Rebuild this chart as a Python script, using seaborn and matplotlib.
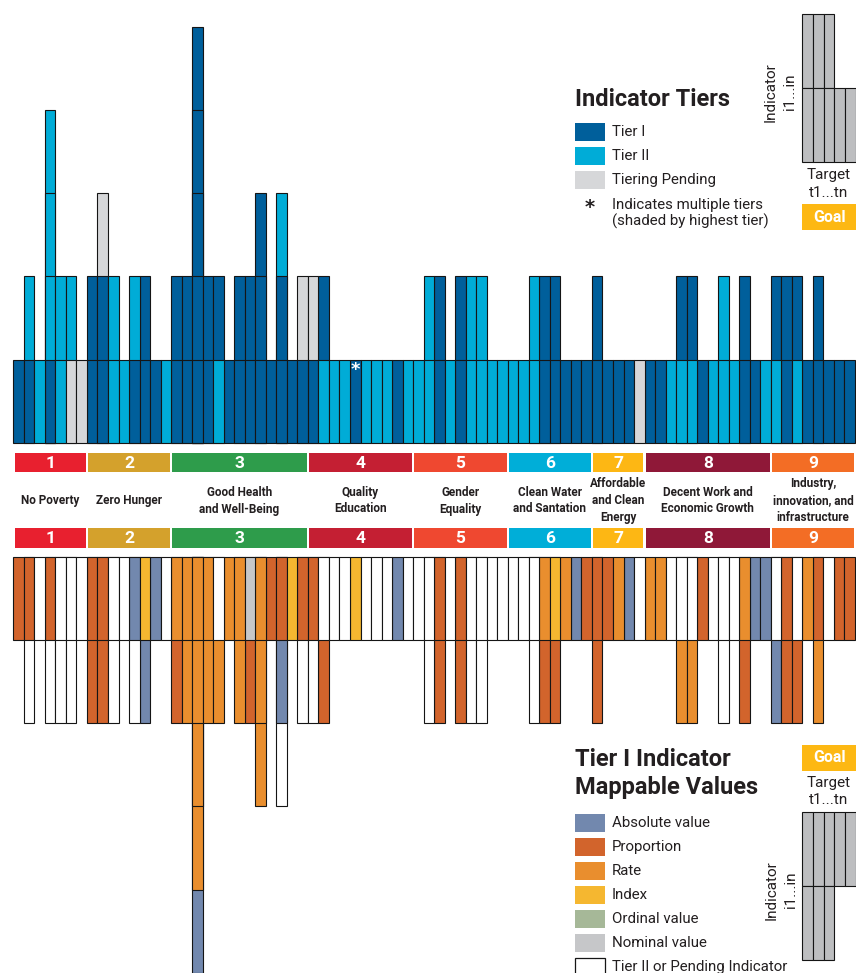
import numpy as np
import pandas as pd
import matplotlib
matplotlib.use("Agg")
import matplotlib.pyplot as plt
import seaborn as sns
from matplotlib.patches import Rectangle

# ---------------- data ----------------
goal_numbers = ["1", "2", "3", "4", "5", "6", "7", "8", "9"]
goal_names = ["No Poverty", "Zero Hunger", "Good Health\nand Well-Being",
              "Quality\nEducation", "Gender\nEquality", "Clean Water\nand Santation",
              "Affordable\nand Clean\nEnergy", "Decent Work and\nEconomic Growth",
              "Industry,\ninnovation, and\ninfrastructure"]
targets_per_goal = [7, 8, 13, 10, 9, 8, 5, 12, 8]
goal_colors = ["#E8202F", "#D4A12C", "#2E9C4B", "#C41F33", "#EF4830",
               "#00AED8", "#FDB714", "#8F1838", "#F36D25"]

# Indicator tiers, one list/dict per stacked level (level 1 = row next to the goal band)
tier_level1 = ("I I II I II P P I I II II I I I II I I I I II I I I I I I I I "
               "I II II II I II II II I II II II I II I II II II II II II II I I I I "
               "I I I I I P I I II II II I II II II I I II II I II I I I I I").split()
tier_level2 = {1: "II", 3: "II", 4: "II", 5: "II", 7: "I", 8: "I", 9: "II", 11: "II",
               12: "I", 15: "I", 16: "I", 17: "I", 18: "I", 19: "I", 21: "I", 22: "I",
               23: "I", 25: "I", 27: "P", 28: "P", 29: "I", 39: "II", 40: "I", 42: "I",
               43: "II", 44: "II", 49: "II", 50: "I", 51: "I", 55: "I", 63: "I", 64: "I",
               67: "II", 69: "I", 72: "I", 73: "I", 74: "I", 76: "I"}
tier_level3 = {3: "II", 8: "P", 17: "I", 23: "I", 25: "II"}
tier_level4 = {3: "II", 17: "I"}
tier_level5 = {17: "I"}
multi_tier_cols = [32]

# Tier I mappable values (A absolute, Pr proportion, R rate, X index, O ordinal, N nominal, W tier II / pending)
value_level1 = ("Pr Pr W Pr W W W Pr Pr W W A X A W R R R R W R R N R Pr Pr X Pr "
                "Pr W W W X W W W A W W W Pr W Pr W W W W W W W R X R A "
                "Pr Pr Pr R A W R R W W W Pr W W W R A A W Pr W R Pr W Pr Pr").split()
value_level2 = {1: "W", 3: "W", 4: "W", 5: "W", 7: "Pr", 8: "Pr", 9: "W", 11: "W",
                12: "A", 15: "Pr", 16: "R", 17: "R", 18: "R", 19: "R", 21: "R", 22: "Pr",
                23: "R", 25: "A", 27: "W", 28: "W", 29: "Pr", 39: "W", 40: "Pr", 42: "Pr",
                43: "W", 44: "W", 49: "W", 50: "Pr", 51: "Pr", 55: "Pr", 63: "R", 64: "R",
                67: "W", 69: "Pr", 72: "A", 73: "Pr", 74: "Pr", 76: "R"}
value_level3 = {17: "R", 23: "R", 25: "W"}
value_level4 = {17: "R"}
value_level5 = {17: "A"}

tier_labels = ["Tier I", "Tier II", "Tiering Pending"]
value_labels = ["Absolute value", "Proportion", "Rate", "Index", "Ordinal value",
                "Nominal value", "Tier II or Pending Indicator"]

# ---------------- style ----------------
tier_palette = {"I": "#005F9B", "II": "#00ACD7", "P": "#D6D7D9"}
value_palette = {"A": "#7288AE", "Pr": "#D2642C", "R": "#E98E2E", "X": "#F5B730",
                 "O": "#A6B898", "N": "#C6C7C9", "W": "#FFFFFF"}
EDGE = "#151515"
TXT = "#231F20"

sns.set_theme(style="white")
plt.rcParams["font.family"] = ["Liberation Sans Narrow", "Roboto", "DejaVu Sans"]

W, H = 856, 973
fig = plt.figure(figsize=(W / 100, H / 100), dpi=100)
fig.patch.set_facecolor("white")

X0, X1 = 13.3, 855.0


def rect(px_left, py_top, px_right, py_bottom):
    return [px_left / W, 1 - py_bottom / H, (px_right - px_left) / W, (py_bottom - py_top) / H]


ax_top = fig.add_axes(rect(X0, 26.6, X1, 443.0))
ax_mid = fig.add_axes(rect(X0, 443.0, X1, 556.7))
ax_bot = fig.add_axes(rect(X0, 556.7, X1, 973.0))
ax_ov = fig.add_axes([0, 0, 1, 1])
for a in (ax_top, ax_mid, ax_bot, ax_ov):
    a.set_facecolor("none")

ncols = len(tier_level1)
order = [str(i) for i in range(ncols)]


def draw_stacks(ax, levels, palette):
    for k in range(len(levels), 0, -1):
        lev = levels[k - 1]
        df = pd.DataFrame({"col": [str(c) for c in lev.keys()],
                           "h": [k] * len(lev),
                           "code": list(lev.values())})
        sns.barplot(data=df, x="col", y="h", hue="code", order=order,
                    hue_order=list(palette.keys()), palette=palette, dodge=False,
                    width=1.0, edgecolor=EDGE, linewidth=0.8, errorbar=None,
                    legend=False, saturation=1, ax=ax)
    for p in ax.patches:
        p.set_clip_on(False)
    ax.set_xlim(-0.5, ncols - 0.5)
    ax.axis("off")


top_levels = [dict(enumerate(tier_level1)), tier_level2, tier_level3, tier_level4, tier_level5]
bot_levels = [dict(enumerate(value_level1)), value_level2, value_level3, value_level4, value_level5]
draw_stacks(ax_top, top_levels, tier_palette)
ax_top.set_ylim(0, 5)
draw_stacks(ax_bot, bot_levels, value_palette)
ax_bot.set_ylim(5, 0)

for c in multi_tier_cols:
    ax_top.text(c, 0.88, "*", color="white", fontsize=13, fontweight="bold",
                ha="center", va="center", family=["DejaVu Sans"])

# ---------------- goal bands ----------------
ax_mid.set_xlim(-0.5, ncols - 0.5)
ax_mid.set_ylim(556.7, 443.0)
ax_mid.axis("off")
starts = np.concatenate([[0], np.cumsum(targets_per_goal)[:-1]])
gap = 0.12
for s, n, col, num, name in zip(starts, targets_per_goal, goal_colors, goal_numbers, goal_names):
    left = s - 0.5 + gap
    for ytop in (452.8, 528.2):
        ax_mid.bar(left, 19.5, width=n - 2 * gap, bottom=ytop, align="edge",
                   color=col, linewidth=0)
        ax_mid.text(s - 0.5 + n / 2, ytop + 10.2, num, color="white", fontsize=12.5,
                    fontweight="bold", ha="center", va="center")
    ax_mid.text(s - 0.5 + n / 2, 500.5, name, color=TXT, fontsize=8.5,
                fontweight="bold", ha="center", va="center", linespacing=1.4)

# ---------------- legends ----------------
ax_ov.set_xlim(0, W)
ax_ov.set_ylim(H, 0)
ax_ov.axis("off")

ax_ov.text(575, 99, "Indicator Tiers", fontsize=17, fontweight="bold", color=TXT,
           ha="left", va="center")
tier_sw_y = [123, 147, 171]
for y, lab, code in zip(tier_sw_y, tier_labels, ["I", "II", "P"]):
    ax_ov.add_patch(Rectangle((575, y), 30, 17.5, facecolor=tier_palette[code], edgecolor="none"))
    ax_ov.text(612, y + 9, lab, fontsize=10.8, color=TXT, ha="left", va="center")
ax_ov.text(590, 207, "*", fontsize=14, color=TXT, ha="center", va="center",
           family=["DejaVu Sans"], fontweight="bold")
ax_ov.text(612, 213.5, "Indicates multiple tiers\n(shaded by highest tier)", fontsize=10.8,
           color=TXT, ha="left", va="center", linespacing=1.22)

ax_ov.text(575, 773.5, "Tier I Indicator\nMappable Values", fontsize=17, fontweight="bold",
           color=TXT, ha="left", va="center", linespacing=1.32)
val_sw_y = [814, 838, 862, 886, 910, 934, 958]
for y, lab, code in zip(val_sw_y, value_labels, ["A", "Pr", "R", "X", "O", "N", "W"]):
    ec = EDGE if code == "W" else "none"
    ax_ov.add_patch(Rectangle((575.5, y), 29.5, 17.5, facecolor=value_palette[code],
                              edgecolor=ec, linewidth=0.9, clip_on=False))
    ax_ov.text(612, y + 9, lab, fontsize=10.8, color=TXT, ha="left", va="center")

# mini schematic grids
GRAY = "#BDBEC0"
cw = 10.65


def mini_grid(row_specs):
    for (ytop, ybot, ncell) in row_specs:
        for k in range(ncell):
            ax_ov.add_patch(Rectangle((802.5 + k * cw, ytop), cw, ybot - ytop,
                                      facecolor=GRAY, edgecolor=EDGE, linewidth=0.8,
                                      clip_on=False))


mini_grid([(14.3, 88.3, 3), (88.3, 162, 5)])
ax_ov.text(771, 92, "Indicator", rotation=90, fontsize=11, color=TXT, ha="center", va="center")
ax_ov.text(790, 92, "i1...in", rotation=90, fontsize=11, color=TXT, ha="center", va="center")
ax_ov.text(829, 175, "Target", fontsize=11, color=TXT, ha="center", va="center")
ax_ov.text(829, 193, "t1...tn", fontsize=11, color=TXT, ha="center", va="center")
ax_ov.add_patch(Rectangle((802.5, 204), 54, 25.5, facecolor="#FDB813", edgecolor="none"))
ax_ov.text(829.5, 217, "Goal", fontsize=11.5, fontweight="bold", color="white",
           ha="center", va="center")

ax_ov.add_patch(Rectangle((802.5, 745), 54, 25.5, facecolor="#FDB813", edgecolor="none"))
ax_ov.text(829.5, 758, "Goal", fontsize=11.5, fontweight="bold", color="white",
           ha="center", va="center")
ax_ov.text(829, 783, "Target", fontsize=11, color=TXT, ha="center", va="center")
ax_ov.text(829, 800, "t1...tn", fontsize=11, color=TXT, ha="center", va="center")
mini_grid([(812, 886, 5), (886, 960, 3)])
ax_ov.text(772, 890, "Indicator", rotation=90, fontsize=11, color=TXT, ha="center", va="center")
ax_ov.text(791, 890, "i1...in", rotation=90, fontsize=11, color=TXT, ha="center", va="center")

fig.savefig("out.png", dpi=100, facecolor="white")
